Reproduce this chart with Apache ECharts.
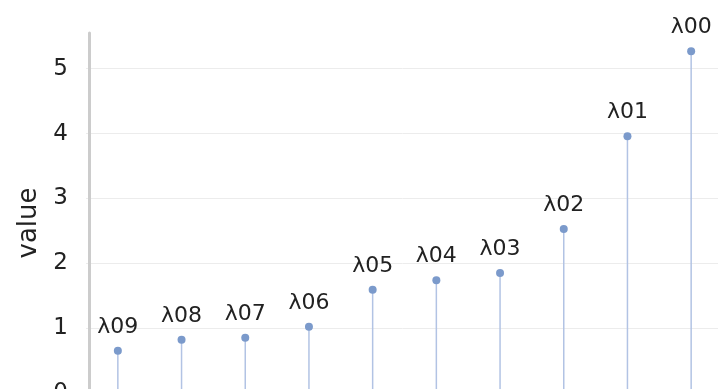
<!DOCTYPE html>
<html>
<head>
<meta charset="utf-8">
<script src="https://cdn.jsdelivr.net/npm/echarts@6/dist/echarts.min.js"></script>
<style>html,body{margin:0;padding:0;background:#fff;}#c{width:718px;height:389px;}</style>
</head>
<body>
<div id="c"></div>
<script>
const categories = ['λ09','λ08','λ07','λ06','λ05','λ04','λ03','λ02','λ01','λ00'];
const values = [0.65, 0.82, 0.85, 1.02, 1.59, 1.74, 1.85, 2.53, 3.96, 5.27];
const yTicks = [0, 1, 2, 3, 4, 5];
const yMax = 5.55;

const chart = echarts.init(document.getElementById('c'), null, {renderer: 'canvas'});
const font = 'DejaVu Sans';
chart.setOption({
  animation: false,
  backgroundColor: '#fff',
  grid: {left: 86, right: -5, top: 33, bottom: -4, containLabel: false, outerBoundsMode: 'none'},
  xAxis: {
    type: 'category',
    data: categories,
    axisLine: {show: false},
    axisTick: {show: false},
    axisLabel: {show: false},
    splitLine: {show: false}
  },
  yAxis: {
    type: 'value',
    min: yTicks[0],
    max: yMax,
    interval: 1,
    offset: -3,
    name: 'value',
    nameLocation: 'middle',
    nameGap: 40,
    nameTextStyle: {fontFamily: font, fontSize: 26, color: '#222', padding: [0, 20, 0, 0]},
    axisLine: {show: true, lineStyle: {color: '#cccccc', width: 3}},
    axisTick: {show: false},
    axisLabel: {
      fontFamily: font, fontSize: 23, color: '#222', margin: 21,
      showMaxLabel: false,
      formatter: v => (yTicks.indexOf(v) >= 0 ? String(v) : '')
    },
    splitLine: {show: true, showMaxLine: false, lineStyle: {color: '#ececec', width: 1}}
  },
  series: [
    {
      type: 'bar',
      data: values,
      barWidth: 1.5,
      itemStyle: {color: '#b2c3e4'},
      z: 2,
      silent: true
    },
    {
      type: 'scatter',
      data: values,
      symbol: 'circle',
      symbolSize: 8,
      itemStyle: {color: '#7b9acb', opacity: 1},
      z: 3,
      label: {
        show: true,
        position: 'top',
        distance: 9,
        formatter: '{b}',
        fontFamily: font,
        fontSize: 22,
        color: '#222'
      }
    }
  ]
});
</script>
</body>
</html>
